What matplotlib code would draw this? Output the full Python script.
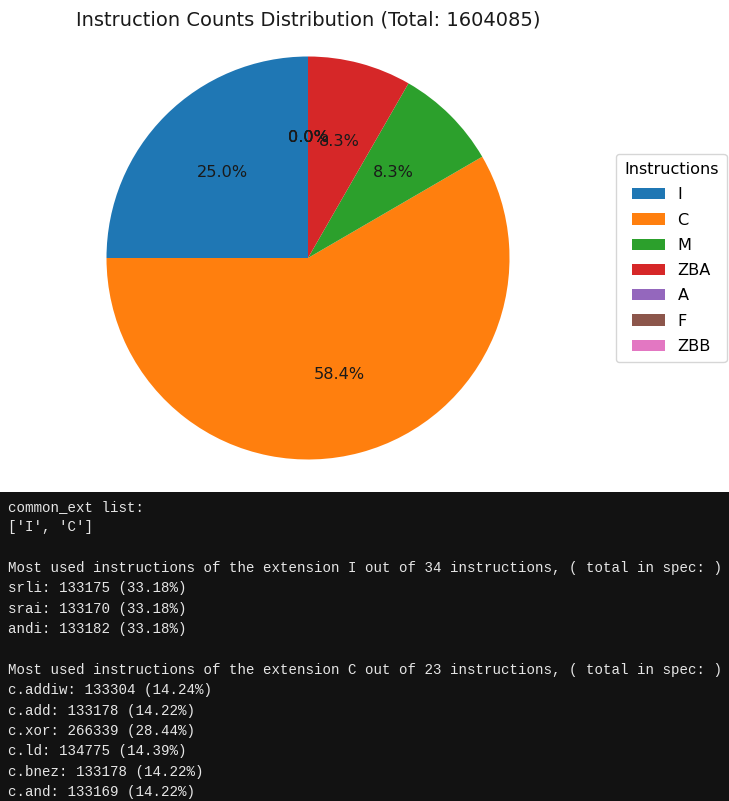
import matplotlib
matplotlib.use("Agg")
import matplotlib.pyplot as plt
from matplotlib.patches import Rectangle

# ---- pie data ----
extensions = ["I", "C", "M", "ZBA", "A", "F", "ZBB"]
counts = [401021, 936494, 133290, 133280, 0, 0, 0]
total = 1604085

# ---- console output data ----
common_ext = ["I", "C"]
i_total_instr = 34
i_names = ["srli", "srai", "andi"]
i_counts = [133175, 133170, 133182]
i_pcts = [33.18, 33.18, 33.18]
c_total_instr = 23
c_names = ["c.addiw", "c.add", "c.xor", "c.ld", "c.bnez", "c.and"]
c_counts = [133304, 133178, 266339, 134775, 133178, 133169]
c_pcts = [14.24, 14.22, 28.44, 14.39, 14.22, 14.22]

W, H = 729, 801
fig = plt.figure(figsize=(W / 100, H / 100), dpi=100)

# pie axes: centre (308,258) px, radius ~201 px -> axes width 2.5*r
r = 201.5
aw = 2.5 * r
cx, cy = 308, 258
ax = fig.add_axes([(cx - aw / 2) / W, 1 - (cy + aw / 2) / H, aw / W, aw / H])
wedges, texts, autotexts = ax.pie(counts, autopct="%1.1f%%", startangle=90,
                                  textprops={"fontsize": 11.6, "color": "#1a1a1a"})
ax.set_aspect("equal")

fig.text(cx / W, 1 - 20 / H, f"Instruction Counts Distribution (Total: {total})",
         ha="center", va="center", fontsize=14, color="#1a1a1a")

leg = ax.legend(wedges, extensions, title="Instructions", loc="center left",
                bbox_to_anchor=(616 / W, 1 - 258 / H), bbox_transform=fig.transFigure,
                borderaxespad=0, fontsize=11.6, title_fontsize=11.6,
                labelspacing=0.64, borderpad=0.5, handlelength=2.1,
                handletextpad=0.75)

# console panel
top = 492
fig.patches.append(Rectangle((0, 0), 1, (H - top) / H, transform=fig.transFigure,
                             facecolor="#121212", edgecolor="none", zorder=0))

lines = ["common_ext list:", "[" + ", ".join(f"'{e}'" for e in common_ext) + "]", ""]
lines.append(f"Most used instructions of the extension I out of {i_total_instr} instructions, ( total in spec: )")
for n, c, p in zip(i_names, i_counts, i_pcts):
    lines.append(f"{n}: {c} ({p:.2f}%)")
lines.append("")
lines.append(f"Most used instructions of the extension C out of {c_total_instr} instructions, ( total in spec: )")
for n, c, p in zip(c_names, c_counts, c_pcts):
    lines.append(f"{n}: {c} ({p:.2f}%)")

y0 = 507
step = 20.36
for k, t in enumerate(lines):
    if t:
        fig.text(7.5 / W, 1 - (y0 + k * step) / H, t, ha="left", va="center",
                 fontsize=10.2, family="Liberation Mono", color="#e6e6e6")

fig.savefig("out.png", dpi=100)
